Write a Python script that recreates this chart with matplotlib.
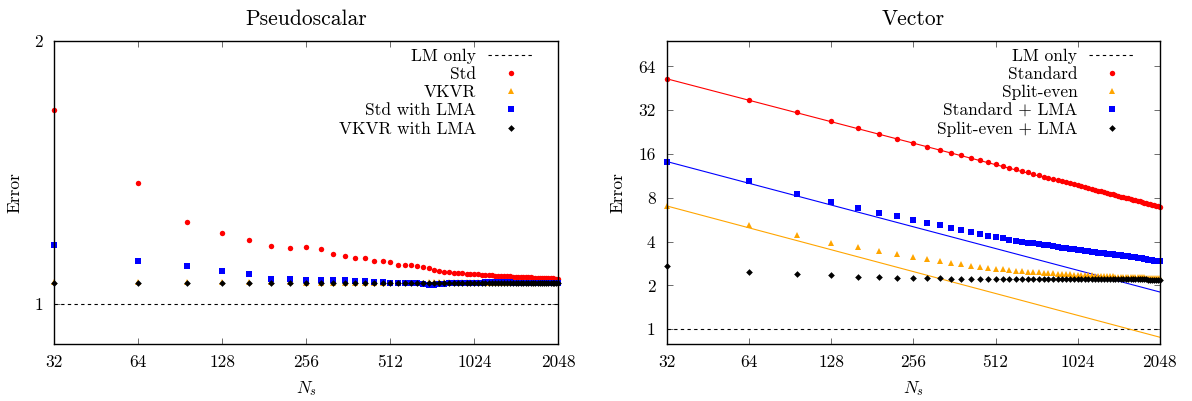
import matplotlib
matplotlib.use('Agg')
import matplotlib.pyplot as plt
from matplotlib.ticker import FixedLocator, FixedFormatter, NullLocator

# sample counts N_s (multiples of 32)
Ns = [32, 64, 96, 128, 160, 192, 224, 256, 288, 320,
      352, 384, 416, 448, 480, 512, 544, 576, 608, 640,
      672, 704, 736, 768, 800, 832, 864, 896, 928, 960,
      992, 1024, 1056, 1088, 1120, 1152, 1184, 1216, 1248, 1280,
      1312, 1344, 1376, 1408, 1440, 1472, 1504, 1536, 1568, 1600,
      1632, 1664, 1696, 1728, 1760, 1792, 1824, 1856, 1888, 1920,
      1952, 1984, 2016, 2048]

x_ticks = [32, 64, 128, 256, 512, 1024, 2048]
x_labels = ['32', '64', '128', '256', '512', '1024', '2048']

lm_only = 1.0

# ---- Pseudoscalar panel ----
ps_std = [1.666, 1.375, 1.240, 1.205, 1.185, 1.165, 1.159, 1.161, 1.155, 1.142,
          1.134, 1.129, 1.128, 1.119, 1.119, 1.118, 1.108, 1.107, 1.107, 1.106,
          1.103, 1.100, 1.093, 1.090, 1.088, 1.087, 1.086, 1.085, 1.084, 1.083,
          1.083, 1.082, 1.081, 1.080, 1.080, 1.079, 1.079, 1.078, 1.078, 1.077,
          1.077, 1.076, 1.076, 1.075, 1.075, 1.075, 1.074, 1.074, 1.073, 1.073,
          1.073, 1.072, 1.072, 1.072, 1.071, 1.071, 1.071, 1.070, 1.070, 1.070,
          1.070, 1.069, 1.069, 1.069]
ps_vkvr = [1.061, 1.059, 1.060, 1.061, 1.060, 1.059, 1.059, 1.058, 1.058, 1.058,
           1.058, 1.058, 1.058, 1.058, 1.058, 1.058, 1.058, 1.058, 1.058, 1.058,
           1.058, 1.059, 1.059, 1.059, 1.059, 1.059, 1.060, 1.060, 1.060, 1.059,
           1.059, 1.059, 1.059, 1.059, 1.058, 1.058, 1.058, 1.058, 1.058, 1.058,
           1.058, 1.058, 1.058, 1.058, 1.058, 1.058, 1.058, 1.058, 1.058, 1.058,
           1.058, 1.058, 1.058, 1.058, 1.058, 1.058, 1.058, 1.058, 1.058, 1.058,
           1.058, 1.058, 1.058, 1.058]
ps_std_lma = [1.169, 1.121, 1.104, 1.090, 1.081, 1.069, 1.069, 1.066, 1.066, 1.066,
              1.065, 1.063, 1.062, 1.060, 1.059, 1.058, 1.058, 1.058, 1.058, 1.057,
              1.055, 1.052, 1.052, 1.053, 1.055, 1.056, 1.056, 1.057, 1.057, 1.057,
              1.058, 1.058, 1.058, 1.058, 1.059, 1.059, 1.059, 1.059, 1.059, 1.059,
              1.059, 1.059, 1.059, 1.058, 1.058, 1.058, 1.058, 1.058, 1.058, 1.058,
              1.058, 1.058, 1.058, 1.058, 1.058, 1.058, 1.058, 1.058, 1.058, 1.058,
              1.058, 1.058, 1.058, 1.058]
ps_vkvr_lma = [1.056, 1.056, 1.056, 1.056, 1.056, 1.056, 1.056, 1.056, 1.056, 1.056,
               1.056, 1.056, 1.056, 1.056, 1.056, 1.056, 1.056, 1.056, 1.056, 1.056,
               1.056, 1.056, 1.056, 1.056, 1.056, 1.056, 1.056, 1.056, 1.056, 1.056,
               1.056, 1.056, 1.056, 1.056, 1.056, 1.056, 1.056, 1.056, 1.056, 1.056,
               1.056, 1.056, 1.056, 1.056, 1.056, 1.056, 1.056, 1.056, 1.056, 1.056,
               1.056, 1.056, 1.056, 1.056, 1.056, 1.056, 1.056, 1.056, 1.056, 1.056,
               1.056, 1.056, 1.056, 1.056]

# ---- Vector panel ----
vec_std = [52.7, 37.7, 31.0, 26.8, 24.0, 21.9, 20.2, 19.0, 17.9, 17.0,
           16.3, 15.7, 15.1, 14.6, 14.1, 13.7, 13.3, 12.9, 12.6, 12.2,
           12.0, 11.7, 11.5, 11.2, 11.0, 10.8, 10.6, 10.4, 10.2, 10.06,
           9.90, 9.75, 9.60, 9.46, 9.33, 9.20, 9.08, 8.96, 8.85, 8.74,
           8.64, 8.54, 8.44, 8.35, 8.25, 8.16, 8.08, 8.00, 7.92, 7.84,
           7.77, 7.69, 7.62, 7.55, 7.49, 7.42, 7.36, 7.30, 7.23, 7.18,
           7.12, 7.06, 7.01, 6.96]
vec_split = [7.03, 5.21, 4.43, 3.92, 3.66, 3.45, 3.28, 3.12, 3.03, 2.93,
             2.85, 2.79, 2.73, 2.67, 2.64, 2.61, 2.58, 2.55, 2.53, 2.51,
             2.49, 2.47, 2.46, 2.45, 2.43, 2.42, 2.41, 2.40, 2.39, 2.38,
             2.375, 2.37, 2.36, 2.355, 2.35, 2.34, 2.335, 2.33, 2.325, 2.32,
             2.315, 2.31, 2.305, 2.30, 2.295, 2.29, 2.288, 2.285, 2.282, 2.28,
             2.277, 2.274, 2.272, 2.27, 2.268, 2.266, 2.264, 2.262, 2.26, 2.258,
             2.256, 2.254, 2.252, 2.25]
vec_std_lma = [14.2, 10.4, 8.46, 7.45, 6.78, 6.27, 6.00, 5.62, 5.36, 5.17,
               4.93, 4.78, 4.62, 4.50, 4.39, 4.29, 4.20, 4.12, 4.03, 3.97,
               3.93, 3.88, 3.84, 3.80, 3.76, 3.72, 3.67, 3.63, 3.60, 3.57,
               3.54, 3.51, 3.48, 3.45, 3.42, 3.40, 3.38, 3.36, 3.34, 3.32,
               3.30, 3.28, 3.26, 3.24, 3.22, 3.21, 3.19, 3.18, 3.17, 3.15,
               3.13, 3.11, 3.09, 3.08, 3.06, 3.04, 3.03, 3.01, 2.99, 2.98,
               2.96, 2.95, 2.93, 2.92]
vec_split_lma = [2.70, 2.48, 2.39, 2.34, 2.30, 2.27, 2.25, 2.24, 2.23, 2.23,
                 2.22, 2.22, 2.22, 2.22, 2.22, 2.22, 2.22, 2.22, 2.22, 2.22,
                 2.215, 2.215, 2.215, 2.215, 2.215, 2.215, 2.215, 2.215, 2.215, 2.215,
                 2.21, 2.21, 2.21, 2.21, 2.21, 2.21, 2.21, 2.21, 2.21, 2.21,
                 2.205, 2.205, 2.205, 2.205, 2.205, 2.205, 2.205, 2.205, 2.205, 2.205,
                 2.20, 2.20, 2.20, 2.20, 2.20, 2.20, 2.20,
                 2.19, 2.19, 2.19, 2.19, 2.185, 2.185, 2.18]

# N^-1/2 fit lines (endpoints at 32 and 2048)
fit_x = [32, 2048]
fit_std = [52.6, 6.85]
fit_split = [7.03, 0.88]
fit_std_lma = [14.2, 1.80]

plt.rcParams['font.family'] = ['cmr10', 'DejaVu Serif']
plt.rcParams['mathtext.fontset'] = 'cm'
plt.rcParams['axes.formatter.use_mathtext'] = True

RED = '#ff0000'
ORANGE = '#ffa500'
BLUE = '#0000ff'
BLACK = '#000000'
FS = 12.5


def setup_axes(ax, title, yticks, ylabels, ylim):
    ax.set_xscale('log', base=2)
    ax.set_yscale('log', base=2)
    ax.set_xlim(32, 2048)
    ax.set_ylim(*ylim)
    ax.xaxis.set_major_locator(FixedLocator(x_ticks))
    ax.xaxis.set_major_formatter(FixedFormatter(x_labels))
    ax.xaxis.set_minor_locator(NullLocator())
    ax.yaxis.set_major_locator(FixedLocator(yticks))
    ax.yaxis.set_major_formatter(FixedFormatter(ylabels))
    ax.yaxis.set_minor_locator(NullLocator())
    ax.tick_params(direction='in', top=True, right=True, length=4, width=0.6,
                   labelsize=FS, pad=8, color='#555555')
    for s in ax.spines.values():
        s.set_linewidth(1.0)
    ax.set_title(title, fontsize=15.5, pad=11)
    ax.set_xlabel('$N_s$', fontsize=FS, labelpad=6)
    ax.set_ylabel('Error', fontsize=FS, labelpad=9)


def add_legend(ax, xanchor):
    ax.legend(loc='upper right', bbox_to_anchor=(xanchor, 0.975), frameon=False,
              markerfirst=False, fontsize=FS, handlelength=2.6, handletextpad=0.7,
              labelspacing=0.17, borderpad=0, borderaxespad=0, numpoints=1)


fig = plt.figure(figsize=(11.92, 4.01), dpi=100)
ax1 = fig.add_axes([0.0456, 0.142, 0.4228, 0.7564])
ax2 = fig.add_axes([0.5593, 0.142, 0.4138, 0.7564])

# Pseudoscalar
setup_axes(ax1, 'Pseudoscalar', [1, 2], ['1', '2'], (0.9, 2.0))
ax1.axhline(lm_only, color='black', lw=0.8, ls=(0, (3, 3)), label='LM only')
ax1.plot(Ns, ps_std, 'o', color=RED, ms=3.9, mew=0, label='Std', clip_on=False)
ax1.plot(Ns, ps_vkvr, '^', color=ORANGE, ms=4.2, mew=0, label='VKVR', clip_on=False)
ax1.plot(Ns, ps_std_lma, 's', color=BLUE, ms=4.3, mew=0, label='Std with LMA', clip_on=False)
ax1.plot(Ns, ps_vkvr_lma, 'D', color=BLACK, ms=3.4, mew=0, label='VKVR with LMA', clip_on=False)
add_legend(ax1, 0.950)

# Vector
setup_axes(ax2, 'Vector', [1, 2, 4, 8, 16, 32, 64],
           ['1', '2', '4', '8', '16', '32', '64'], (0.79, 96))
ax2.axhline(lm_only, color='black', lw=0.8, ls=(0, (3, 3)), label='LM only')
ax2.plot(fit_x, fit_std, '-', color=RED, lw=0.8)
ax2.plot(fit_x, fit_std_lma, '-', color=BLUE, lw=0.8)
ax2.plot(fit_x, fit_split, '-', color=ORANGE, lw=0.8)
ax2.plot(Ns, vec_std, 'o', color=RED, ms=3.9, mew=0, label='Standard', clip_on=False)
ax2.plot(Ns, vec_split, '^', color=ORANGE, ms=4.2, mew=0, label='Split-even', clip_on=False)
ax2.plot(Ns, vec_std_lma, 's', color=BLUE, ms=4.3, mew=0, label='Standard + LMA', clip_on=False)
ax2.plot(Ns, vec_split_lma, 'D', color=BLACK, ms=3.4, mew=0, label='Split-even + LMA', clip_on=False)
add_legend(ax2, 0.9487)

fig.savefig('out.png', dpi=100)
